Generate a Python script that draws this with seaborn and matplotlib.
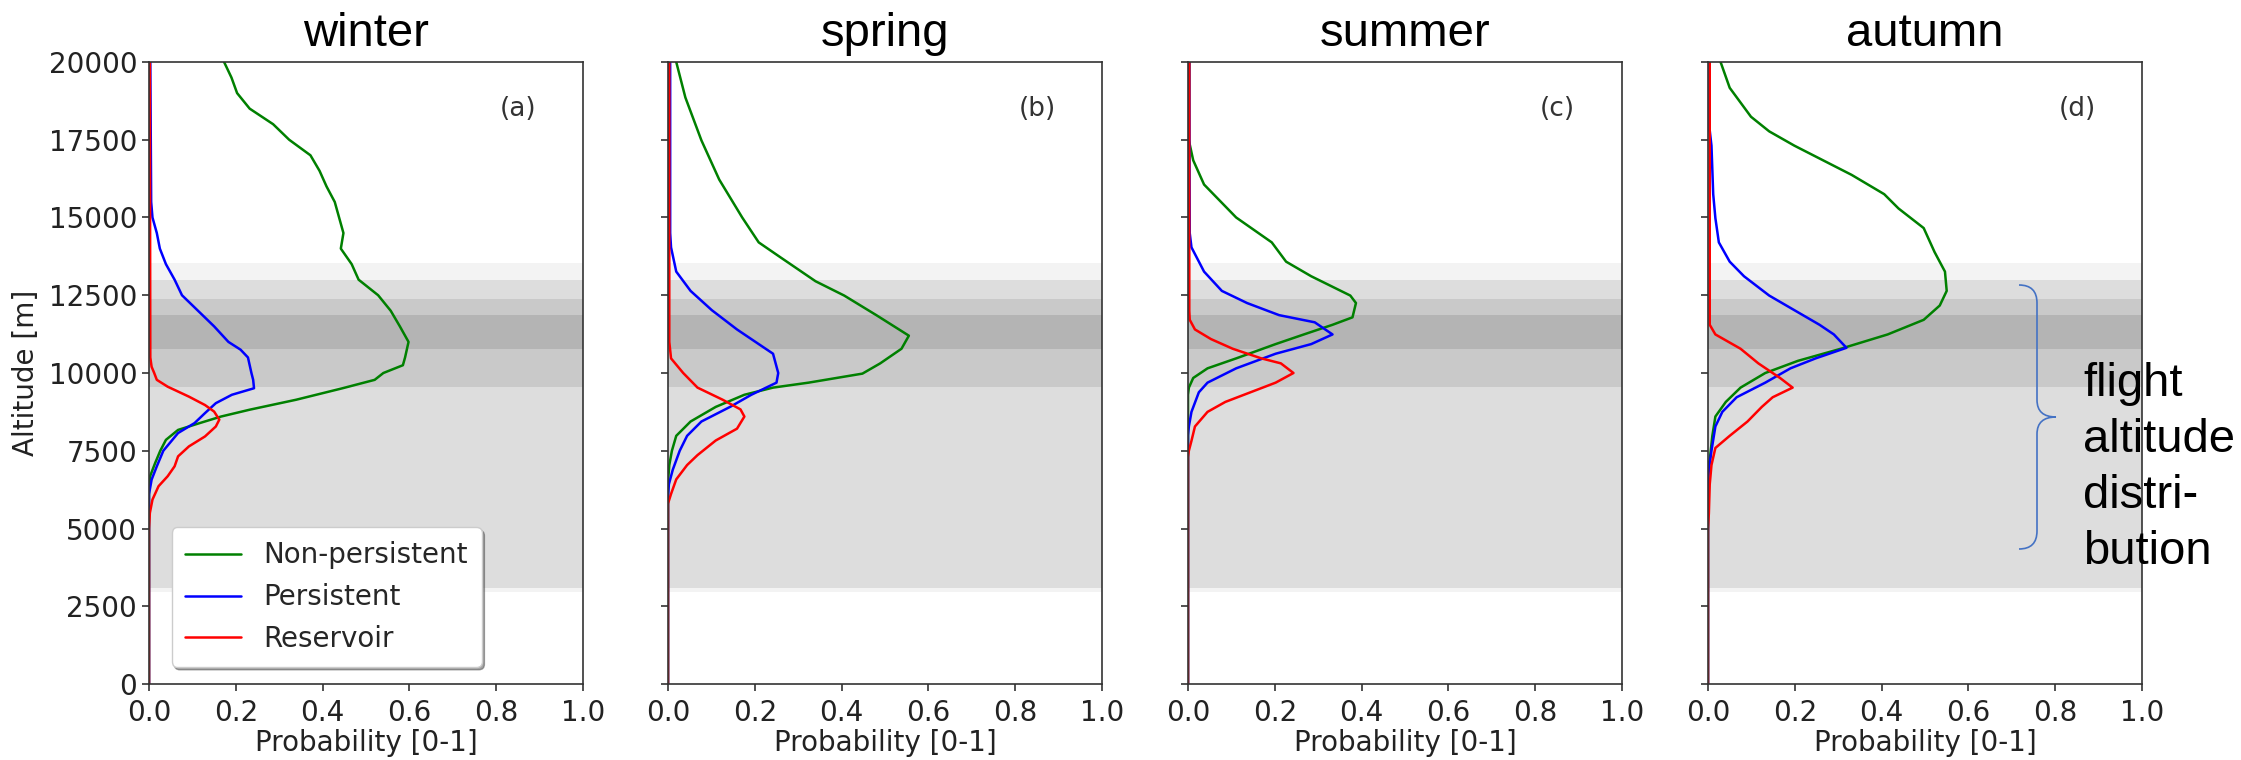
import pandas as pd
import seaborn as sns
import matplotlib.pyplot as plt
from matplotlib.path import Path
from matplotlib.patches import PathPatch

seasons = ["winter", "spring", "summer", "autumn"]
panel_tags = ["(a)", "(b)", "(c)", "(d)"]
types = ["Non-persistent", "Persistent", "Reservoir"]
palette = {"Non-persistent": "green", "Persistent": "blue", "Reservoir": "red"}

# winter
winter_np_alt = [20000, 19500, 19000, 18500, 18000, 17500, 17000, 16500, 16000, 15500, 15000, 14500, 14000,
                 13500, 13000, 12500, 12000, 11500, 11000, 10500, 10250, 10000, 9780, 9510, 9140, 8820, 8600,
                 8390, 8170, 7850, 7500, 7100, 6700, 6400, 0]
winter_np_p = [0.173, 0.19, 0.203, 0.232, 0.286, 0.323, 0.372, 0.393, 0.409, 0.428, 0.438, 0.448, 0.442,
               0.467, 0.483, 0.528, 0.557, 0.578, 0.598, 0.59, 0.585, 0.54, 0.52, 0.446, 0.339, 0.232, 0.166,
               0.117, 0.067, 0.039, 0.026, 0.014, 0.003, 0.0, 0.0]
winter_p_alt = [20000, 15500, 15000, 14500, 14000, 13500, 13000, 12500, 12000, 11500, 11000, 10750, 10500,
                10000, 9780, 9510, 9300, 9030, 8710, 8390, 8070, 7500, 7000, 6570, 6100, 0]
winter_p_p = [0.003, 0.005, 0.008, 0.018, 0.025, 0.039, 0.059, 0.076, 0.113, 0.15, 0.183, 0.211, 0.228,
              0.236, 0.24, 0.242, 0.191, 0.154, 0.129, 0.105, 0.067, 0.033, 0.018, 0.006, 0.0, 0.0]
winter_r_alt = [20000, 10500, 10200, 10000, 9780, 9560, 9240, 8970, 8760, 8500, 8280, 7960, 7640, 7320,
                7000, 6680, 6360, 5930, 5500, 5000, 0]
winter_r_p = [0.002, 0.003, 0.006, 0.012, 0.018, 0.043, 0.092, 0.129, 0.15, 0.162, 0.154, 0.129, 0.092, 0.067,
              0.059, 0.043, 0.022, 0.008, 0.002, 0.0, 0.0]

# spring
spring_np_alt = [20000, 18860, 17480, 16220, 15000, 14200, 13730, 12950, 12490, 11860, 11200, 10780, 10310,
                 9980, 9690, 9530, 9300, 8910, 8440, 7980, 7500, 7040, 6500, 0]
spring_np_p = [0.019, 0.04, 0.077, 0.118, 0.171, 0.209, 0.258, 0.34, 0.406, 0.48, 0.555, 0.538, 0.489,
               0.448, 0.324, 0.242, 0.176, 0.11, 0.052, 0.019, 0.009, 0.003, 0.0, 0.0]
spring_p_alt = [20000, 14500, 14040, 13260, 12640, 12020, 11400, 10930, 10620, 10000, 9690, 9300, 8910,
                8440, 7980, 7500, 6890, 6420, 6000, 0]
spring_p_p = [0.005, 0.005, 0.007, 0.019, 0.052, 0.101, 0.159, 0.209, 0.242, 0.254, 0.25, 0.192, 0.143,
              0.077, 0.044, 0.027, 0.011, 0.002, 0.0, 0.0]
spring_r_alt = [20000, 11000, 10470, 10000, 9530, 9140, 8830, 8600, 8210, 7830, 7360, 7040, 6580, 6110, 5800, 0]
spring_r_p = [0.003, 0.003, 0.007, 0.035, 0.068, 0.126, 0.167, 0.176, 0.159, 0.11, 0.068, 0.044, 0.019,
              0.007, 0.0, 0.0]

# summer
summer_np_alt = [20000, 17480, 16840, 16060, 15000, 14200, 13580, 13110, 12490, 12250, 11790, 11550, 11240,
                 10930, 10470, 10150, 9840, 9530, 9300, 0]
summer_np_p = [0.003, 0.002, 0.012, 0.037, 0.111, 0.193, 0.226, 0.284, 0.374, 0.387, 0.379, 0.333, 0.267,
               0.202, 0.111, 0.045, 0.012, 0.002, 0.0, 0.0]
summer_p_alt = [20000, 14500, 14040, 13260, 12640, 12250, 11860, 11630, 11240, 10930, 10620, 10150, 9690,
                9380, 8750, 8280, 8000, 0]
summer_p_p = [0.003, 0.004, 0.008, 0.037, 0.078, 0.136, 0.21, 0.292, 0.333, 0.284, 0.202, 0.111, 0.045,
              0.025, 0.008, 0.002, 0.0, 0.0]
summer_r_alt = [20000, 12000, 11710, 11400, 11090, 10780, 10470, 10310, 10000, 9690, 9380, 9070, 8750,
                8280, 7820, 7500, 7300, 0]
summer_r_p = [0.003, 0.003, 0.004, 0.016, 0.053, 0.103, 0.169, 0.214, 0.243, 0.202, 0.144, 0.086, 0.045,
              0.016, 0.008, 0.002, 0.0, 0.0]

# autumn
autumn_np_alt = [20000, 19170, 18240, 17770, 17310, 16840, 16370, 15750, 15290, 14660, 13890, 13260, 12640,
                 12170, 11710, 11240, 10780, 10390, 10000, 9530, 9070, 8600, 7980, 7200, 7000, 0]
autumn_np_p = [0.029, 0.05, 0.099, 0.141, 0.199, 0.265, 0.331, 0.406, 0.439, 0.497, 0.522, 0.546, 0.55,
               0.534, 0.497, 0.414, 0.306, 0.207, 0.132, 0.075, 0.041, 0.017, 0.01, 0.004, 0.0, 0.0]
autumn_p_alt = [20000, 17800, 17310, 15750, 14980, 14200, 13580, 13110, 12490, 12020, 11550, 11240, 10810,
                10470, 10150, 9690, 9220, 8750, 8280, 7500, 6890, 6500, 0]
autumn_p_p = [0.004, 0.004, 0.008, 0.012, 0.017, 0.025, 0.05, 0.083, 0.141, 0.199, 0.257, 0.29, 0.319,
              0.248, 0.19, 0.132, 0.066, 0.033, 0.017, 0.008, 0.002, 0.0, 0.0]
autumn_r_alt = [20000, 12000, 11550, 11240, 10780, 10310, 9840, 9530, 9220, 8910, 8440, 7980, 7590, 7040,
                6420, 5490, 5000, 0]
autumn_r_p = [0.004, 0.004, 0.004, 0.017, 0.075, 0.116, 0.166, 0.195, 0.149, 0.124, 0.091, 0.05, 0.017,
              0.008, 0.004, 0.002, 0.0, 0.0]

# flight altitude distribution bands (bottom, top, colour), drawn outer to inner
band_bottom = [2970, 3080, 9535, 10780]
band_top = [13530, 12990, 12380, 11850]
band_color = ["#f3f3f3", "#dddddd", "#c9c9c9", "#b4b4b4"]

curves = {
    "winter": [(winter_np_alt, winter_np_p), (winter_p_alt, winter_p_p), (winter_r_alt, winter_r_p)],
    "spring": [(spring_np_alt, spring_np_p), (spring_p_alt, spring_p_p), (spring_r_alt, spring_r_p)],
    "summer": [(summer_np_alt, summer_np_p), (summer_p_alt, summer_p_p), (summer_r_alt, summer_r_p)],
    "autumn": [(autumn_np_alt, autumn_np_p), (autumn_p_alt, autumn_p_p), (autumn_r_alt, autumn_r_p)],
}

sns.set_theme(style="ticks")
plt.rcParams["font.family"] = ["DejaVu Sans"]
plt.rcParams["axes.edgecolor"] = "#333333"
plt.rcParams["xtick.color"] = "#333333"
plt.rcParams["ytick.color"] = "#333333"

W, H = 2241, 760
fig = plt.figure(figsize=(W / 100, H / 100), dpi=100)
lefts = [149, 668, 1188, 1708]
ax_w, ax_top, ax_bot = 434, 62, 684

for i, season in enumerate(seasons):
    ax = fig.add_axes([lefts[i] / W, 1 - ax_bot / H, ax_w / W, (ax_bot - ax_top) / H])
    for b0, b1, c in zip(band_bottom, band_top, band_color):
        ax.axhspan(b0, b1, color=c, lw=0, zorder=0)

    rows = []
    for t, (alt, p) in zip(types, curves[season]):
        rows.append(pd.DataFrame({"alt": alt, "prob": p, "type": t}))
    df = pd.concat(rows, ignore_index=True)
    sns.lineplot(data=df, x="prob", y="alt", hue="type", hue_order=types, palette=palette,
                 sort=False, estimator=None, orient="y", linewidth=1.8, legend=False, ax=ax)

    ax.set_xlim(0, 1)
    ax.set_ylim(0, 20000)
    ax.set_xticks([0, 0.2, 0.4, 0.6, 0.8, 1.0])
    ax.set_yticks(range(0, 20001, 2500))
    ax.tick_params(labelsize=20, length=5, width=1.2, labelcolor="#222222")
    ax.tick_params(axis="x", pad=6)
    for s in ax.spines.values():
        s.set_linewidth(1.2)
    ax.set_xlabel("Probability [0-1]", fontsize=20, color="#222222", labelpad=1)
    if i == 0:
        ax.set_ylabel("Altitude [m]", fontsize=20, color="#222222", labelpad=6)
        ax.legend(handles=ax.lines[:3], labels=types, loc="lower left", fontsize=20,
                  framealpha=1, shadow=True, borderpad=0.5, bbox_to_anchor=(0.02, 0.005))
    else:
        ax.set_ylabel("")
        ax.tick_params(labelleft=False)
    ax.text(0.85, 0.925, panel_tags[i], transform=ax.transAxes, ha="center", va="center",
            fontsize=19, color="#333333")

    fig.text((lefts[i] + ax_w / 2) / W, 1 - 46 / H, season, ha="center", va="baseline",
             fontsize=34, family=["Liberation Sans"], color="black")

# curly brace and note on the right
def fp(x, y):
    return (x / W, 1 - y / H)

verts = [fp(2019, 285), fp(2037, 285), fp(2037, 303), fp(2037, 400), fp(2037, 417), fp(2056, 417),
         fp(2037, 417), fp(2037, 434), fp(2037, 531), fp(2037, 549), fp(2019, 549)]
codes = [Path.MOVETO, Path.CURVE3, Path.CURVE3, Path.LINETO, Path.CURVE3, Path.CURVE3,
         Path.CURVE3, Path.CURVE3, Path.LINETO, Path.CURVE3, Path.CURVE3]
brace = PathPatch(Path(verts, codes), transform=fig.transFigure, fill=False, edgecolor="#4472c4", lw=1.2)
fig.add_artist(brace)
fig.text(2083 / W, 1 - 362 / H, "flight\naltitude\ndistri-\nbution", ha="left", va="top",
         fontsize=34, family=["Liberation Sans"], color="black", linespacing=1.35)

fig.savefig("out.png", dpi=100)
